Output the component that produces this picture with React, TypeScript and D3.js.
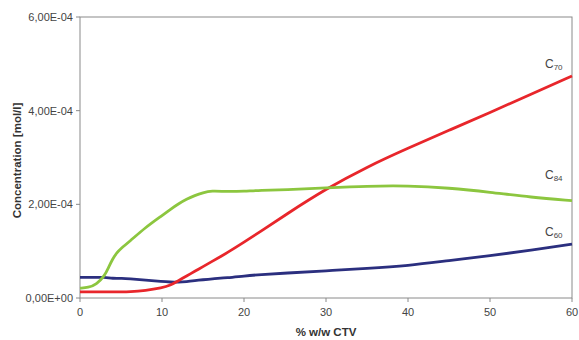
import React from 'react';
import * as d3 from 'd3';

// values, concentration in units of 1E-4 mol/l
const ctv = [0, 1, 2, 3, 3.5, 4, 4.5, 5, 6, 8, 10, 11, 12, 13, 14, 15, 16, 18, 20, 22, 25, 30, 35, 40, 45, 50, 55, 60];
const c60 = [0.44, 0.44, 0.44, 0.44, 0.43, 0.42, 0.42, 0.42, 0.41, 0.38, 0.35, 0.34, 0.34, 0.35, 0.37, 0.39, 0.41, 0.43, 0.47, 0.5, 0.53, 0.58, 0.63, 0.69, 0.8, 0.9, 1.02, 1.15];
const c70 = [0.13, 0.13, 0.13, 0.13, 0.13, 0.13, 0.13, 0.13, 0.13, 0.16, 0.22, 0.27, 0.37, 0.47, 0.57, 0.67, 0.77, 0.97, 1.19, 1.42, 1.77, 2.33, 2.8, 3.2, 3.58, 3.96, 4.35, 4.74];
const c84 = [0.21, 0.22, 0.29, 0.47, 0.66, 0.84, 0.97, 1.06, 1.2, 1.51, 1.76, 1.89, 2.01, 2.11, 2.19, 2.25, 2.29, 2.27, 2.28, 2.3, 2.31, 2.35, 2.39, 2.4, 2.35, 2.26, 2.15, 2.08];

const yTicks = [0, 2, 4, 6];
const xTicks = [0, 10, 20, 30, 40, 50, 60];

const series = [
  { name: '60', values: c60, color: '#2b2f7f', labelY: 236 },
  { name: '70', values: c70, color: '#e8262b', labelY: 68 },
  { name: '84', values: c84, color: '#8cc63f', labelY: 179 },
];

const fmt = (v: number) => (v === 0 ? '0,00E+00' : `${v.toFixed(2).replace('.', ',')}E-04`);

export default function App() {
  const width = 579, height = 340;
  const left = 80, right = 572, top = 17, bottom = 298;

  const x = d3.scaleLinear().domain([0, 60]).range([left, right]);
  const y = d3.scaleLinear().domain([0, 6]).range([bottom, top]);

  const line = (vals: number[]) =>
    d3.line<number>().x((_, i) => x(ctv[i])).y(d => y(d)).curve(d3.curveBasis)(vals) || '';

  return (
    <svg width={width} height={height} style={{ position: 'absolute', left: 0, top: 0, fontFamily: 'Liberation Sans, Arial, sans-serif' }}>
      <rect width={width} height={height} fill='#fff' />
      <rect x={left} y={top} width={right - left} height={bottom - top} fill='none' stroke='#8a8a8a' strokeWidth={1} />
      {yTicks.map(t => (
        <g key={t}>
          <line x1={left - 4} x2={left} y1={y(t)} y2={y(t)} stroke='#8a8a8a' />
          <text x={left - 7} y={y(t) + 4} textAnchor='end' fontSize={11} fill='#444'>{fmt(t)}</text>
        </g>
      ))}
      {xTicks.map(t => (
        <g key={t}>
          <line x1={x(t)} x2={x(t)} y1={bottom} y2={bottom + 4} stroke='#8a8a8a' />
          <text x={x(t)} y={bottom + 18} textAnchor='middle' fontSize={11} fill='#444'>{t}</text>
        </g>
      ))}
      {series.map(s => (
        <path key={s.name} d={line(s.values)} fill='none' stroke={s.color} strokeWidth={2.8} strokeLinejoin='round' />
      ))}
      {series.map(s => (
        <text key={s.name} x={545} y={s.labelY} fontSize={12} fill='#444'>
          C<tspan fontSize={8} dy={2}>{s.name}</tspan>
        </text>
      ))}
      <text x={326} y={336} textAnchor='middle' fontSize={11.5} fontWeight='bold' fill='#333'>% w/w CTV</text>
      <text transform={`translate(21, ${(top + bottom) / 2 + 3}) rotate(-90)`} textAnchor='middle' fontSize={11.5} fontWeight='bold' fill='#333'>Concentration [mol/l]</text>
    </svg>
  );
}
